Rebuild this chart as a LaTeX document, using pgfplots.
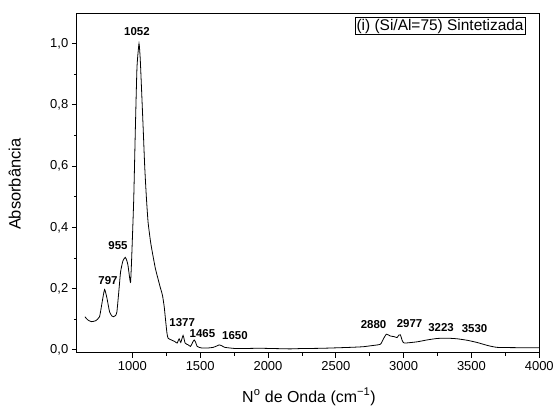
\documentclass[border=0pt]{standalone}
\usepackage{pgfplots}
\pgfplotsset{compat=1.18}
\usepackage{fontspec}
\setmainfont{Liberation Sans}
\begin{document}
\begin{tikzpicture}
\begin{axis}[
    scale only axis,
    width=464pt, height=341pt,
    xmin=590, xmax=4000,
    ymin=-0.01, ymax=1.1,
    xtick={1000,1500,...,4000},
    minor x tick num=1,
    ytick={0,0.2,...,1.0},
    minor y tick num=1,
    tick align=outside,
    xtick pos=bottom, ytick pos=left,
    major tick length=5pt, minor tick length=3pt,
    axis line style={line width=0.8pt},
    every tick/.style={black, line width=0.7pt},
    tick label style={font=\fontsize{13}{15}\selectfont},
    /pgf/number format/assume math mode=true,
    x tick label style={/pgf/number format/1000 sep={}},
    y tick label style={/pgf/number format/.cd, use comma, fixed, fixed zerofill, precision=1},
    xlabel={N\textsuperscript{o} de Onda (cm\textsuperscript{−1})},
    ylabel={Absorbância},
    xlabel style={font=\fontsize{16}{18}\selectfont, at={(axis description cs:0.502,-0.129)}, anchor=center},
    ylabel style={font=\fontsize{16.5}{18}\selectfont, at={(axis description cs:-0.134,0.496)}, anchor=center, rotate=0},
]
\addplot[black, line width=0.8pt, smooth, tension=0.3] coordinates {
(650,0.108) (670,0.098) (697,0.092) (730,0.095) (758,0.108) (775,0.150)
(795,0.197) (812,0.170) (832,0.124) (850,0.110) (862,0.108) (876,0.112)
(886,0.124) (900,0.190) (913,0.254) (930,0.290) (948,0.302) (960,0.290)
(968,0.275) (980,0.235) (987,0.221) (995,0.300) (1010,0.491) (1022,0.720)
(1034,0.922) (1049,1.000) (1058,0.950) (1066,0.869) (1080,0.720) (1091,0.599)
(1103,0.500) (1116,0.416) (1135,0.350) (1152,0.307) (1170,0.265) (1189,0.232)
(1205,0.205) (1222,0.178) (1235,0.140) (1246,0.092) (1255,0.055) (1263,0.038)
(1288,0.032) (1313,0.027) (1330,0.022) (1345,0.036) (1357,0.024) (1374,0.047)
(1389,0.022) (1412,0.016) (1429,0.011) (1445,0.025) (1456,0.032) (1466,0.025)
(1478,0.011) (1510,0.006) (1560,0.006) (1596,0.008) (1620,0.012) (1640,0.016)
(1660,0.013) (1682,0.008) (1768,0.004) (1941,0.005) (2163,0.003) (2236,0.004)
(2400,0.005) (2606,0.008) (2700,0.010) (2754,0.013) (2828,0.018) (2850,0.035)
(2873,0.051) (2902,0.045) (2930,0.043) (2951,0.040) (2965,0.048) (2976,0.049)
(2990,0.030) (3005,0.022) (3098,0.026) (3170,0.032) (3246,0.037) (3320,0.038)
(3394,0.036) (3470,0.031) (3541,0.024) (3620,0.014) (3689,0.008) (3837,0.007)
(4000,0.007)
};
\begin{scope}[every node/.style={font=\fontsize{11.5}{12}\selectfont\bfseries}]
\node at (axis cs:820,0.227) {797};
\node at (axis cs:894,0.342) {955};
\node at (axis cs:1034,1.038) {1052};
\node at (axis cs:1367,0.090) {1377};
\node at (axis cs:1517,0.054) {1465};
\node at (axis cs:1756,0.045) {1650};
\node at (axis cs:2778,0.083) {2880};
\node at (axis cs:3044,0.085) {2977};
\node at (axis cs:3276,0.073) {3223};
\node at (axis cs:3523,0.070) {3530};
\end{scope}
\node[draw, line width=0.6pt, inner sep=1.5pt, anchor=north east,
      font=\fontsize{15.5}{17}\selectfont]
      at (axis description cs:0.970,0.988) {(i) (Si/Al=75) Sintetizada};
\end{axis}
\path ([shift={(-77pt,-58pt)}]current axis.south west) rectangle ([shift={(16pt,13pt)}]current axis.north east);
\end{tikzpicture}
\end{document}
